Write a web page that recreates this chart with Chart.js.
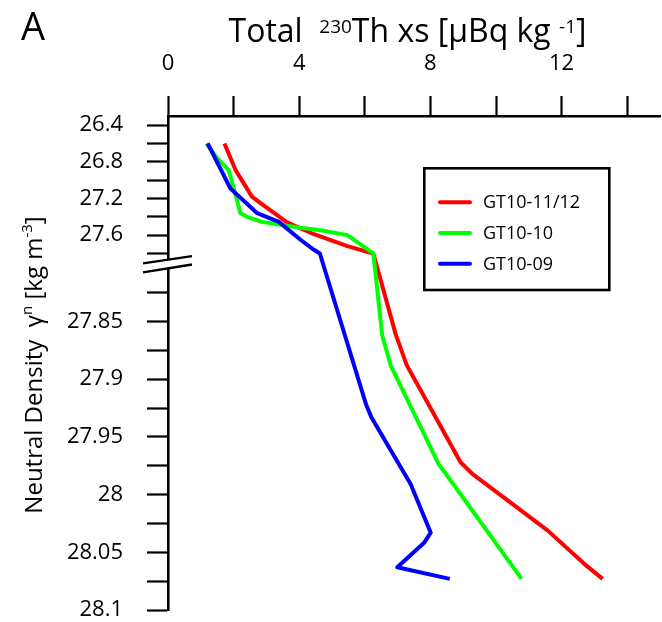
<!DOCTYPE html>
<html>
<head>
<meta charset="utf-8">
<script src="https://cdn.jsdelivr.net/npm/chart.js@4/dist/chart.umd.min.js"></script>
<style>
  html, body { margin: 0; padding: 0; background: #fff; }
  #wrap { width: 662px; height: 622px; }
</style>
</head>
<body>
<div id="wrap"><canvas id="chart" width="662" height="622"></canvas></div>
<script>
// Total 230Th xs [uBq/kg] against neutral density, three stations
var seriesNames = ['GT10-11/12', 'GT10-10', 'GT10-09'];
var seriesColors = ['#ff0000', '#00ff00', '#0000ff'];

var redTh = [1.72, 2.06, 2.56, 2.82, 3.63, 4.45, 5.47, 6.26, 6.94, 7.28, 8.92, 9.28, 11.57, 12.69, 13.25];
var redDensity = [26.60, 26.89, 27.18, 27.25, 27.46, 27.59, 27.72, 27.80, 27.861, 27.888, 27.972, 27.982, 28.031, 28.060, 28.073];

var greenTh = [1.17, 1.50, 1.85, 2.21, 2.41, 2.87, 3.48, 4.04, 4.70, 5.47, 6.26, 6.53, 6.79, 8.26, 8.47, 10.78];
var greenDensity = [26.60, 26.76, 26.89, 27.36, 27.40, 27.455, 27.49, 27.52, 27.55, 27.60, 27.80, 27.862, 27.888, 27.974, 27.982, 28.073];

var blueTh = [1.21, 1.55, 1.90, 2.11, 2.72, 3.38, 4.04, 4.45, 4.63, 6.04, 6.20, 7.40, 8.01, 7.80, 6.99, 8.59];
var blueDensity = [26.60, 26.84, 27.09, 27.16, 27.36, 27.455, 27.65, 27.76, 27.80, 27.922, 27.933, 27.991, 28.033, 28.042, 28.063, 28.073];

var xTickValues = [0, 2, 4, 6, 8, 10, 12, 14];
var xTickLabels = ['0', '', '4', '', '8', '', '12', ''];

var yTickValues = [26.4, 26.6, 26.8, 27.0, 27.2, 27.4, 27.6, 27.8,
                   27.825, 27.85, 27.875, 27.9, 27.925, 27.95, 27.975, 28, 28.025, 28.05, 28.075, 28.1];
var yTickLabels = ['26.4', '', '26.8', '', '27.2', '', '27.6', '',
                   '', '27.85', '', '27.9', '', '27.95', '', '28', '', '28.05', '', '28.1'];

// broken axis: density -> fraction of plot height (upper part compressed)
var densityKnots = [[26.3, 0], [27.8, 0.2783], [27.825, 0.3575], [28.1, 1]];

function densityToDecimal(v) {
    var k = densityKnots;
    if (v <= k[0][0]) return k[0][1] + (v - k[0][0]) / (k[1][0] - k[0][0]) * (k[1][1] - k[0][1]);
    for (var i = 1; i < k.length; i++) {
        if (v <= k[i][0] || i === k.length - 1) {
            return k[i - 1][1] + (v - k[i - 1][0]) / (k[i][0] - k[i - 1][0]) * (k[i][1] - k[i - 1][1]);
        }
    }
}

function decimalToDensity(d) {
    var k = densityKnots;
    for (var i = 1; i < k.length; i++) {
        if (d <= k[i][1] || i === k.length - 1) {
            return k[i - 1][0] + (d - k[i - 1][1]) / (k[i][1] - k[i - 1][1]) * (k[i][0] - k[i - 1][0]);
        }
    }
}

class BrokenDensityScale extends Chart.LinearScale {
    getPixelForValue(value) {
        return this.getPixelForDecimal(densityToDecimal(value));
    }
    getValueForPixel(pixel) {
        return decimalToDensity(this.getDecimalForPixel(pixel));
    }
}
BrokenDensityScale.id = 'brokenDensity';
BrokenDensityScale.defaults = Chart.LinearScale.defaults;
Chart.register(BrokenDensityScale);

function toPoints(xs, ys) {
    return xs.map(function (x, i) { return { x: x, y: ys[i] }; });
}

var FONT = '"Open Sans", "Noto Sans", sans-serif';

function drawPieces(ctx, pieces, x, y) {
    pieces.forEach(function (p) {
        ctx.font = p.size + 'px ' + FONT;
        ctx.fillText(p.text, x, y - (p.up || 0));
        x += ctx.measureText(p.text).width;
    });
}

function piecesWidth(ctx, pieces) {
    var w = 0;
    pieces.forEach(function (p) {
        ctx.font = p.size + 'px ' + FONT;
        w += ctx.measureText(p.text).width;
    });
    return w;
}

var decorations = {
    id: 'decorations',
    afterDraw: function (chart) {
        var ctx = chart.ctx;
        var area = chart.chartArea;
        var yScale = chart.scales.y;
        ctx.save();
        ctx.fillStyle = '#000';
        ctx.textBaseline = 'alphabetic';
        ctx.textAlign = 'left';

        // panel letter
        ctx.font = '38px ' + FONT;
        ctx.fillText('A', 21, 40);

        // top title
        var title = [
            { text: 'Total  ', size: 32 },
            { text: '230', size: 19, up: 9 },
            { text: 'Th xs [\u00b5Bq kg ', size: 32 },
            { text: '-1', size: 19, up: 9 },
            { text: ']', size: 32 }
        ];
        var tw = piecesWidth(ctx, title);
        drawPieces(ctx, title, 407.5 - tw / 2, 41.7);

        // y axis title
        var ytitle = [
            { text: 'Neutral Density  \u03b3', size: 24 },
            { text: 'n', size: 15, up: 10 },
            { text: ' [kg m', size: 24 },
            { text: '-3', size: 15, up: 10 },
            { text: ']', size: 24 }
        ];
        var yw = piecesWidth(ctx, ytitle);
        ctx.save();
        ctx.translate(42, 365);
        ctx.rotate(-Math.PI / 2);
        drawPieces(ctx, ytitle, -yw / 2, 0);
        ctx.restore();

        // axis break marks
        var by = yScale.getPixelForValue(27.8) + 10.5;
        var bx = area.left;
        ctx.fillStyle = '#fff';
        ctx.beginPath();
        ctx.moveTo(bx - 25, by - 0.6);
        ctx.lineTo(bx + 24, by - 7.8);
        ctx.lineTo(bx + 24, by + 0.5);
        ctx.lineTo(bx - 25, by + 8.4);
        ctx.closePath();
        ctx.fill();
        ctx.strokeStyle = '#000';
        ctx.lineWidth = 2.4;
        ctx.beginPath();
        ctx.moveTo(bx - 25, by - 0.6);
        ctx.lineTo(bx + 24, by - 7.8);
        ctx.moveTo(bx - 25, by + 8.4);
        ctx.lineTo(bx + 24, by + 0.5);
        ctx.stroke();

        // legend box
        ctx.lineWidth = 2.6;
        ctx.strokeRect(424.3, 168.3, 185, 121.7);
        ctx.font = '18px ' + FONT;
        ctx.textBaseline = 'middle';
        chart.data.datasets.forEach(function (ds, i) {
            var ly = 202.3 + i * 30.7;
            ctx.strokeStyle = ds.borderColor;
            ctx.lineWidth = 4;
            ctx.lineCap = 'round';
            ctx.beginPath();
            ctx.moveTo(440, ly);
            ctx.lineTo(470, ly);
            ctx.stroke();
            ctx.fillStyle = '#000';
            ctx.fillText(ds.label, 483, ly + 1);
        });
        ctx.restore();
    }
};

var datasets = [
    { label: seriesNames[0], data: toPoints(redTh, redDensity), borderColor: seriesColors[0], order: 3 },
    { label: seriesNames[1], data: toPoints(greenTh, greenDensity), borderColor: seriesColors[1], order: 2 },
    { label: seriesNames[2], data: toPoints(blueTh, blueDensity), borderColor: seriesColors[2], order: 1 }
].map(function (ds) {
    ds.showLine = true;
    ds.borderWidth = 4;
    ds.pointRadius = 0;
    ds.borderJoinStyle = 'round';
    ds.fill = false;
    ds.tension = 0;
    return ds;
});

new Chart(document.getElementById('chart').getContext('2d'), {
    type: 'scatter',
    data: { datasets: datasets },
    options: {
        responsive: false,
        animation: false,
        events: [],
        layout: { padding: { left: 0, top: 0, right: 2, bottom: 12 } },
        plugins: {
            legend: { display: false },
            tooltip: { enabled: false },
            title: { display: false }
        },
        scales: {
            x: {
                type: 'linear',
                position: 'top',
                min: 0,
                max: 15,
                afterBuildTicks: function (scale) {
                    scale.ticks = xTickValues.map(function (v) { return { value: v }; });
                },
                afterFit: function (scale) {
                    scale.height = 116;
                    scale.paddingLeft = 0;
                    scale.paddingRight = 0;
                },
                ticks: {
                    autoSkip: false,
                    maxRotation: 0,
                    padding: 19,
                    color: '#000',
                    font: { family: FONT, size: 22 },
                    callback: function (value) {
                        var i = xTickValues.indexOf(value);
                        return i >= 0 ? xTickLabels[i] : '';
                    }
                },
                grid: { display: true, drawOnChartArea: false, drawTicks: true, tickLength: 20, tickWidth: 2.2, color: '#000' },
                border: { display: true, color: '#000', width: 2.6 }
            },
            y: {
                type: 'brokenDensity',
                position: 'left',
                reverse: true,
                min: 26.3,
                max: 28.1,
                afterBuildTicks: function (scale) {
                    scale.ticks = yTickValues.map(function (v) { return { value: v }; });
                },
                afterFit: function (scale) {
                    scale.width = 168;
                    scale.paddingTop = 0;
                    scale.paddingBottom = 0;
                },
                ticks: {
                    autoSkip: false,
                    padding: 24,
                    color: '#000',
                    font: { family: FONT, size: 22 },
                    callback: function (value) {
                        var i = yTickValues.indexOf(value);
                        return i >= 0 ? yTickLabels[i] : '';
                    }
                },
                grid: { display: true, drawOnChartArea: false, drawTicks: true, tickLength: 21, tickWidth: 2.2, color: '#000' },
                border: { display: true, color: '#000', width: 2.6 }
            }
        }
    },
    plugins: [decorations]
});
</script>
</body>
</html>
